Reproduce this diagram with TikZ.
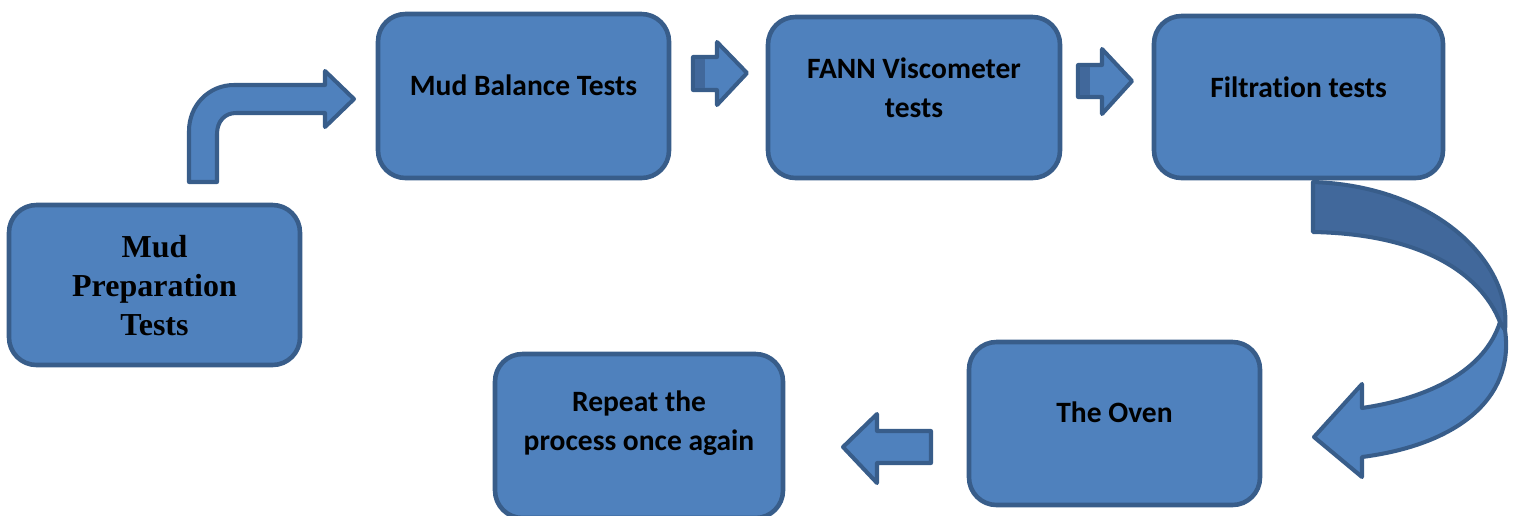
\documentclass[tikz,border=0pt]{standalone}
\usepackage{fontspec}
\newfontfamily\calfont[Ligatures={NoCommon}]{Carlito}
\newfontfamily\serfont{Liberation Serif}
\definecolor{boxfill}{HTML}{4F81BD}
\definecolor{boxline}{HTML}{385D8A}
\definecolor{darkfill}{HTML}{41689B}
\begin{document}
\begin{tikzpicture}[x=0.02cm,y=-0.02cm,
  box/.style={draw=boxline, fill=boxfill, line width=2.6pt, rounded corners=0.55cm, rectangle},
  lbl/.style={font=\calfont\bfseries\fontsize{16.8}{22.2}\selectfont, align=center, text=black},
  serlbl/.style={font=\serfont\bfseries\fontsize{18.2}{22.2}\selectfont, align=center, text=black},
  blockarrow/.style={draw=boxline, fill=boxfill, line width=2.3pt, line join=round},
  darkpart/.style={fill=darkfill, draw=none}]
\useasboundingbox (0,0) rectangle (1514,515);

% boxes
\node[box, minimum width=291*0.02cm, minimum height=160*0.02cm] (b1) at (154.5,285) {};
\node[box, minimum width=291*0.02cm, minimum height=164*0.02cm] (b2) at (523.5,96) {};
\node[box, minimum width=292*0.02cm, minimum height=161*0.02cm] (b3) at (914,97.5) {};
\node[box, minimum width=289*0.02cm, minimum height=162*0.02cm] (b4) at (1298.5,97) {};
\node[box, minimum width=291*0.02cm, minimum height=163*0.02cm] (b5) at (1114.5,423.5) {};
\node[box, minimum width=288*0.02cm, minimum height=164*0.02cm] (b6) at (639,436) {};

% labels
\node[serlbl] (t1) at (154.5,286) {Mud\\Preparation\\Tests};
\node[lbl] (t2) at (523.5,85) {Mud Balance Tests};
\node[lbl] (t3) at (914,88) {FANN Viscometer\\tests};
\node[lbl] (t4) at (1298.5,87) {Filtration tests};
\node[lbl] (t5) at (1114.5,412) {The Oven};
\node[lbl] (t6) at (639,423) {Repeat the\\process once again};

% bent arrow (b1 -> b2)
\draw[blockarrow] (189,182) -- (189,131) .. controls (189,105) and (209,85) .. (234,85)
  -- (325,85) -- (325,71) -- (354,99) -- (325,127) -- (325,113) -- (236,113)
  .. controls (225,113) and (217,121) .. (217,134) -- (217,182) -- cycle;

% small arrow b2 -> b3
\draw[blockarrow] (693,57) -- (717,57) -- (717,42) -- (747,73) -- (717,105) -- (717,90) -- (693,90) -- cycle;
\fill[darkpart] (694.5,58.5) rectangle (705,88.5);
\draw[boxline, line width=2.3pt, line join=round] (693,57) -- (706,57) (693,90) -- (706,90) (693,57) -- (693,90);

% small arrow b3 -> b4
\draw[blockarrow] (1078,65) -- (1102,65) -- (1102,49) -- (1132,81) -- (1102,114) -- (1102,97) -- (1078,97) -- cycle;
\fill[darkpart] (1079.5,66.5) rectangle (1090,95.5);
\draw[boxline, line width=2.3pt, line join=round] (1078,65) -- (1091,65) (1078,97) -- (1091,97) (1078,65) -- (1078,97);

% curved arrow b4 -> b5 : lower (front) band with head
\draw[blockarrow] (1500,322) .. controls (1485,370) and (1430,398) .. (1362,408)
  -- (1362,384) -- (1314,437) -- (1362,477) -- (1362,457)
  .. controls (1455,445) and (1515,400) .. (1505,330) -- cycle;
% upper (back) band
\draw[blockarrow, fill=darkfill] (1313,182) .. controls (1435,186) and (1512,262) .. (1505,330)
  -- (1500,322) .. controls (1480,272) and (1420,234) .. (1313,232) -- cycle;

% left arrow b5 -> b6
\draw[blockarrow] (931,431) -- (877,431) -- (877,414) -- (843,447) -- (877,483) -- (877,463) -- (931,463) -- cycle;
\end{tikzpicture}
\end{document}
